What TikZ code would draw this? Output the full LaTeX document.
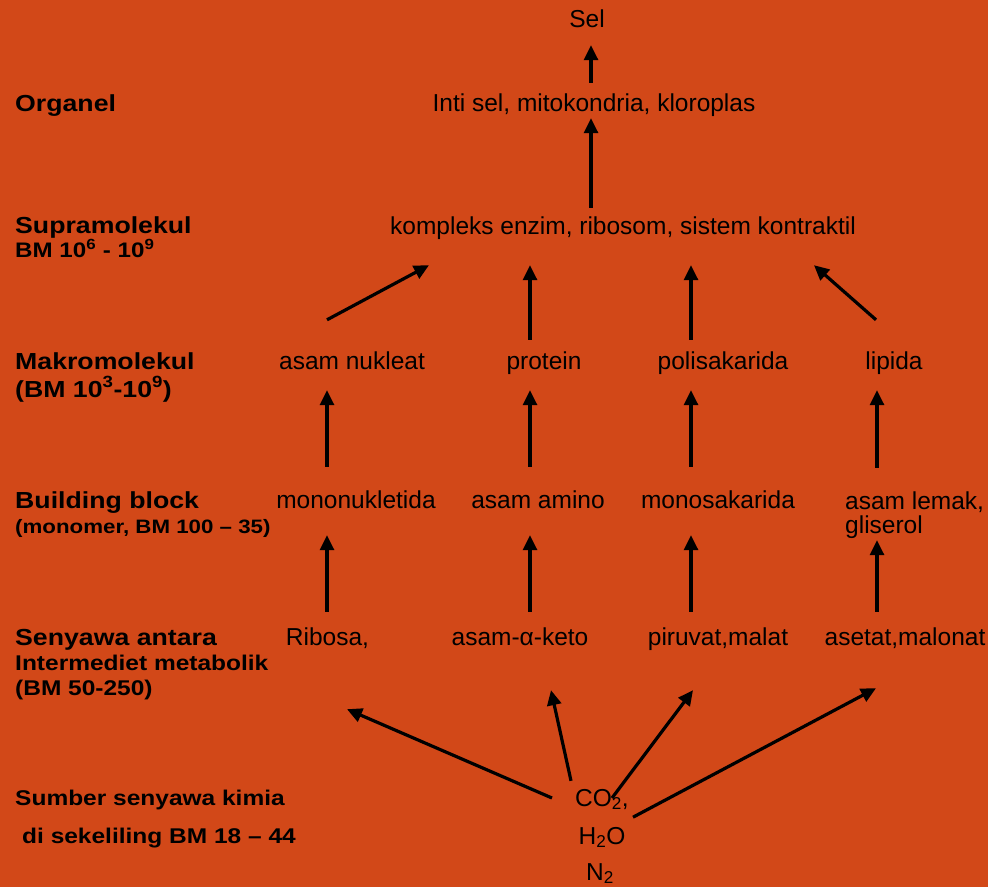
\documentclass[tikz,border=0pt]{standalone}
\usepackage{fontspec}
\setmainfont{Liberation Sans}
\newfontfamily\lblfont[FakeStretch=1.15]{Liberation Sans}
\usepackage{tikz}
\usetikzlibrary{arrows.meta}
\definecolor{bgorange}{HTML}{D24818}

\begin{document}
\begin{tikzpicture}[x=1pt, y=-1pt,
  txt/.style = {inner sep=0pt, anchor=base, text height=18pt, text depth=5pt, font=\fontsize{24.5}{29}\selectfont},
  lbl/.style = {inner sep=0pt, anchor=base west, font=\lblfont\bfseries\fontsize{23.2}{27}\selectfont},
  sub/.style = {lbl, font=\lblfont\bfseries\fontsize{21.3}{25}\selectfont},
  arr/.style = {line width=3.2pt, -{Triangle[length=15pt,width=14pt]}}]
\fill[bgorange] (0,0) rectangle (988,887);
\useasboundingbox (0,0) rectangle (988,887);

\node[lbl] (org) at (15,111) {Organel};
\node[lbl] (supra) at (15,233) {Supramolekul};
\node[sub, font=\lblfont\bfseries\fontsize{21}{25}\selectfont] (supraBM) at (15,257) {BM 10\textsuperscript{6} - 10\textsuperscript{9}};
\node[lbl] (makro) at (15,369) {Makromolekul};
\node[lbl] (makroBM) at (15,397) {(BM 10\textsuperscript{3}-10\textsuperscript{9})};
\node[lbl] (build) at (15,508) {Building block};
\node[sub, font=\lblfont\bfseries\fontsize{19.4}{23}\selectfont] (buildBM) at (15,533) {(monomer, BM 100 – 35)};
\node[lbl] (senyawa) at (15,645) {Senyawa antara};
\node[sub] (inter) at (15,670) {Intermediet metabolik};
\node[sub] (interBM) at (15,695) {(BM 50-250)};
\node[sub] (sumber) at (15,805) {Sumber senyawa kimia};
\node[sub] (sekitar) at (22,843) {di sekeliling BM 18 – 44};

\node[txt] (sel) at (587,27) {Sel};
\node[txt] (inti) at (594,111) {Inti sel, mitokondria, kloroplas};
\node[txt] (kompleks) at (623,234) {kompleks enzim, ribosom, sistem kontraktil};
\node[txt] (nukleat) at (352,369) {asam nukleat};
\node[txt] (protein) at (544,369) {protein};
\node[txt] (polisak) at (723,369) {polisakarida};
\node[txt] (lipida) at (894,369) {lipida};
\node[txt] (mononuk) at (356,508) {mononukletida};
\node[txt] (amino) at (538,508) {asam amino};
\node[txt] (monosak) at (718,508) {monosakarida};
\node[txt, anchor=base west] (lemak) at (845,509) {asam lemak,};
\node[txt, anchor=base west] (gliserol) at (845,533) {gliserol};
\node[txt] (ribosa) at (327.5,645) {Ribosa,};
\node[txt] (keto) at (520,645) {asam-α-keto};
\node[txt] (piruvat) at (718,645) {piruvat,malat};
\node[txt] (asetat) at (905,645) {asetat,malonat};
\node[txt, anchor=base west] (co2) at (575,806) {CO\textsubscript{2},};
\node[txt] (h2o) at (602,844) {H\textsubscript{2}O};
\node[txt] (n2) at (600,880) {N\textsubscript{2}};

\coordinate (cm) at (591,0);
\coordinate (c1) at (327,0);
\coordinate (c2) at (530,0);
\coordinate (c3) at (691,0);
\coordinate (c4) at (877,0);

\draw[arr, shorten <=10pt, shorten >=13pt] (inti.north -| cm) -- (sel.south -| cm);
\draw[arr, shorten <=8pt, shorten >=2pt] (kompleks.north -| cm) -- (inti.south -| cm);

\draw[arr] ([shift={(-25,-31)}]nukleat.north) -- ([shift={(-194,26)}]kompleks.south);
\draw[arr, shorten <=11pt, shorten >=26pt] (protein.north -| c2) -- (kompleks.south -| c2);
\draw[arr, shorten <=11pt, shorten >=26pt] (polisak.north -| c3) -- (kompleks.south -| c3);
\draw[arr] ([shift={(-18,-31)}]lipida.north) -- ([shift={(191,26)}]kompleks.south);

\foreach \lo/\hi/\c in {mononuk/nukleat/c1, amino/protein/c2, monosak/polisak/c3, lemak/lipida/c4}
  \draw[arr, shorten <=23pt, shorten >=16pt] (\lo.north -| \c) -- (\hi.south -| \c);

\foreach \lo/\hi/\c in {ribosa/mononuk/c1, keto/amino/c2, piruvat/monosak/c3}
  \draw[arr, shorten <=15pt, shorten >=22pt] (\lo.north -| \c) -- (\hi.south -| \c);
\draw[arr, shorten <=15pt, shorten >=2pt] (asetat.north -| c4) -- (gliserol.south -| c4);

\draw[arr] ([shift={(-23,-1.5)}]co2.west) -- ([shift={(19.5,59)}]ribosa.south);
\draw[arr] ([shift={(-4,-7)}]co2.north west) -- ([shift={(31,40)}]keto.south);
\draw[arr] ([shift={(-17,-1.5)}]co2.east) -- ([shift={(-25,40)}]piruvat.south);
\draw[arr] ([shift={(4,6)}]co2.south east) -- ([shift={(-29,38)}]asetat.south);
\end{tikzpicture}
\end{document}
